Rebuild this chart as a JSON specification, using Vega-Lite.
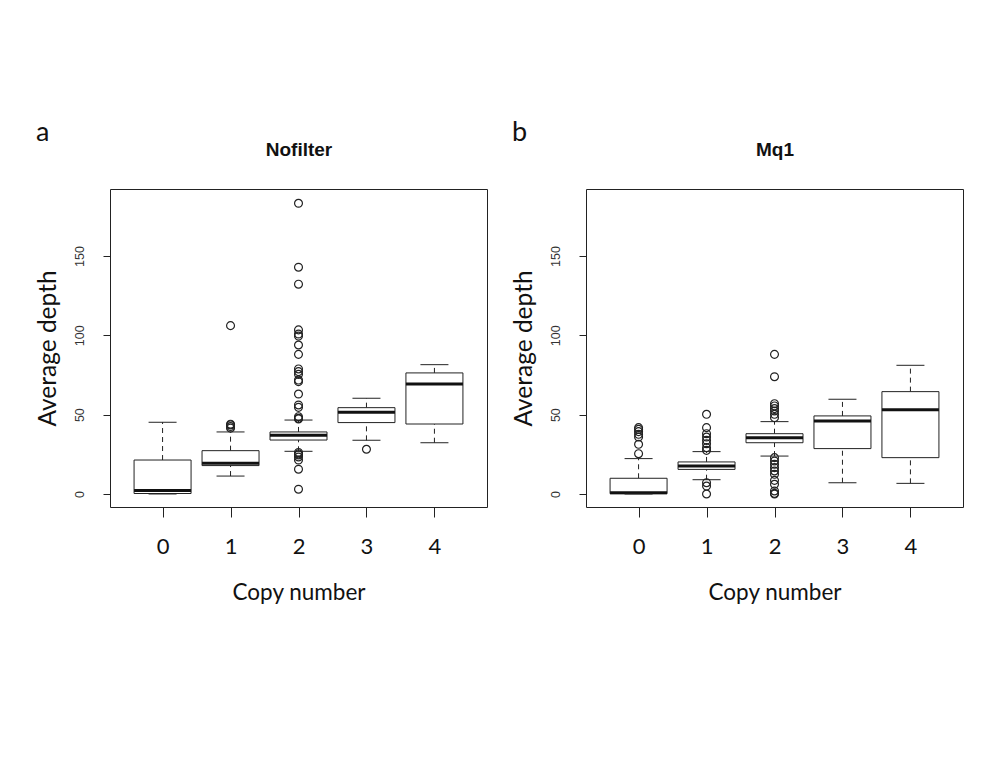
{
  "$schema": "https://vega.github.io/schema/vega-lite/v6.json",
  "background": "white",
  "padding": {"left": 34, "top": 118, "right": 5, "bottom": 5},
  "datasets": {
    "boxes": [
      {"panel": "a", "copy": 0, "lower": 0, "q1": 0.3, "median": 2.2, "q3": 21.4, "upper": 45.2},
      {"panel": "a", "copy": 1, "lower": 11.3, "q1": 17.9, "median": 19.3, "q3": 27.3, "upper": 39.1},
      {"panel": "a", "copy": 2, "lower": 26.9, "q1": 34.0, "median": 37.0, "q3": 39.1, "upper": 46.6},
      {"panel": "a", "copy": 3, "lower": 33.8, "q1": 45.0, "median": 51.5, "q3": 54.4, "upper": 60.3},
      {"panel": "a", "copy": 4, "lower": 32.3, "q1": 44.1, "median": 69.3, "q3": 76.3, "upper": 81.5},
      {"panel": "b", "copy": 0, "lower": 0, "q1": 0.2, "median": 0.8, "q3": 9.9, "upper": 22.3},
      {"panel": "b", "copy": 1, "lower": 9.0, "q1": 15.5, "median": 17.6, "q3": 20.2, "upper": 26.7},
      {"panel": "b", "copy": 2, "lower": 23.9, "q1": 32.3, "median": 35.5, "q3": 38.0, "upper": 45.6},
      {"panel": "b", "copy": 3, "lower": 7.1, "q1": 28.6, "median": 46.0, "q3": 49.2, "upper": 59.7},
      {"panel": "b", "copy": 4, "lower": 6.7, "q1": 22.9, "median": 53.1, "q3": 64.5, "upper": 81.1}
    ],
    "outliers": [
      {"panel": "a", "copy": 1, "value": 106.1},
      {"panel": "a", "copy": 1, "value": 41.5},
      {"panel": "a", "copy": 1, "value": 42.5},
      {"panel": "a", "copy": 1, "value": 43.5},
      {"panel": "a", "copy": 1, "value": 44.0},
      {"panel": "a", "copy": 2, "value": 183.2},
      {"panel": "a", "copy": 2, "value": 142.9},
      {"panel": "a", "copy": 2, "value": 132.2},
      {"panel": "a", "copy": 2, "value": 103.4},
      {"panel": "a", "copy": 2, "value": 100.8},
      {"panel": "a", "copy": 2, "value": 99.5},
      {"panel": "a", "copy": 2, "value": 93.9},
      {"panel": "a", "copy": 2, "value": 88.0},
      {"panel": "a", "copy": 2, "value": 78.8},
      {"panel": "a", "copy": 2, "value": 77.1},
      {"panel": "a", "copy": 2, "value": 75.4},
      {"panel": "a", "copy": 2, "value": 71.8},
      {"panel": "a", "copy": 2, "value": 70.8},
      {"panel": "a", "copy": 2, "value": 63.0},
      {"panel": "a", "copy": 2, "value": 56.1},
      {"panel": "a", "copy": 2, "value": 54.6},
      {"panel": "a", "copy": 2, "value": 48.7},
      {"panel": "a", "copy": 2, "value": 47.7},
      {"panel": "a", "copy": 2, "value": 47.3},
      {"panel": "a", "copy": 2, "value": 26.2},
      {"panel": "a", "copy": 2, "value": 25.3},
      {"panel": "a", "copy": 2, "value": 24.6},
      {"panel": "a", "copy": 2, "value": 23.3},
      {"panel": "a", "copy": 2, "value": 21.4},
      {"panel": "a", "copy": 2, "value": 15.6},
      {"panel": "a", "copy": 2, "value": 3.0},
      {"panel": "a", "copy": 3, "value": 28.2},
      {"panel": "b", "copy": 0, "value": 41.8},
      {"panel": "b", "copy": 0, "value": 40.7},
      {"panel": "b", "copy": 0, "value": 39.3},
      {"panel": "b", "copy": 0, "value": 37.6},
      {"panel": "b", "copy": 0, "value": 35.9},
      {"panel": "b", "copy": 0, "value": 31.3},
      {"panel": "b", "copy": 0, "value": 25.4},
      {"panel": "b", "copy": 1, "value": 50.2},
      {"panel": "b", "copy": 1, "value": 41.8},
      {"panel": "b", "copy": 1, "value": 38.0},
      {"panel": "b", "copy": 1, "value": 35.9},
      {"panel": "b", "copy": 1, "value": 33.8},
      {"panel": "b", "copy": 1, "value": 31.7},
      {"panel": "b", "copy": 1, "value": 29.2},
      {"panel": "b", "copy": 1, "value": 27.5},
      {"panel": "b", "copy": 1, "value": 7.1},
      {"panel": "b", "copy": 1, "value": 5.0},
      {"panel": "b", "copy": 1, "value": 0.0},
      {"panel": "b", "copy": 2, "value": 88.0},
      {"panel": "b", "copy": 2, "value": 73.9},
      {"panel": "b", "copy": 2, "value": 56.9},
      {"panel": "b", "copy": 2, "value": 55.5},
      {"panel": "b", "copy": 2, "value": 53.8},
      {"panel": "b", "copy": 2, "value": 52.3},
      {"panel": "b", "copy": 2, "value": 50.2},
      {"panel": "b", "copy": 2, "value": 48.1},
      {"panel": "b", "copy": 2, "value": 22.9},
      {"panel": "b", "copy": 2, "value": 20.8},
      {"panel": "b", "copy": 2, "value": 18.7},
      {"panel": "b", "copy": 2, "value": 16.6},
      {"panel": "b", "copy": 2, "value": 14.5},
      {"panel": "b", "copy": 2, "value": 12.4},
      {"panel": "b", "copy": 2, "value": 8.6},
      {"panel": "b", "copy": 2, "value": 6.1},
      {"panel": "b", "copy": 2, "value": 1.9},
      {"panel": "b", "copy": 2, "value": 0.4},
      {"panel": "b", "copy": 2, "value": 0.0}
    ]
  },
  "spacing": 22,
  "hconcat": [
    {
      "width": 377, "height": 318,
      "title": {"text": "a"},
      "resolve": {"axis": {"x": "independent"}},
      "layer": [
        {"data": {"name": "boxes"}, "transform": [{"filter": "datum.panel == 'a'"}],
         "mark": {"type": "rule", "strokeDash": [5, 4], "color": "#222", "strokeWidth": 1},
         "encoding": {
           "x": {"field": "copy", "type": "quantitative", "scale": {"domain": [-0.7, 4.7], "nice": false, "zero": false}, "axis": {"values": [0, 1, 2, 3, 4], "title": "Copy number"}},
           "y": {"field": "lower", "type": "quantitative", "scale": {"domain": [-8.2, 192.2], "nice": false, "zero": false}, "title": "Average depth"},
           "y2": {"field": "q1"}}},
        {"data": {"name": "boxes"}, "transform": [{"filter": "datum.panel == 'a'"}],
         "mark": {"type": "rule", "strokeDash": [5, 4], "color": "#222", "strokeWidth": 1},
         "encoding": {
           "x": {"field": "copy", "type": "quantitative", "scale": {"domain": [-0.7, 4.7], "nice": false, "zero": false}, "axis": {"orient": "top", "title": "Nofilter", "ticks": false, "labels": false, "domain": false, "titleX": 188.5, "titleY": -40}},
           "y": {"field": "q3", "type": "quantitative", "scale": {"domain": [-8.2, 192.2], "nice": false, "zero": false}, "title": "Average depth"},
           "y2": {"field": "upper"}}},
        {"data": {"name": "boxes"}, "transform": [{"filter": "datum.panel == 'a'"}],
         "mark": {"type": "bar", "orient": "vertical", "size": 57, "fill": "white", "stroke": "#222", "strokeWidth": 1},
         "encoding": {
           "x": {"field": "copy", "type": "quantitative", "scale": {"domain": [-0.7, 4.7], "nice": false, "zero": false}, "axis": null},
           "y": {"field": "q1", "type": "quantitative", "scale": {"domain": [-8.2, 192.2], "nice": false, "zero": false}, "title": "Average depth"},
           "y2": {"field": "q3"}}},
        {"data": {"name": "boxes"}, "transform": [{"filter": "datum.panel == 'a'"}],
         "mark": {"type": "tick", "orient": "horizontal", "size": 57, "thickness": 3, "color": "#111", "opacity": 1},
         "encoding": {
           "x": {"field": "copy", "type": "quantitative", "scale": {"domain": [-0.7, 4.7], "nice": false, "zero": false}, "axis": null},
           "y": {"field": "median", "type": "quantitative", "scale": {"domain": [-8.2, 192.2], "nice": false, "zero": false}, "title": "Average depth"}}},
        {"data": {"name": "boxes"}, "transform": [{"filter": "datum.panel == 'a'"}],
         "mark": {"type": "tick", "orient": "horizontal", "size": 28, "thickness": 1, "color": "#222", "opacity": 1},
         "encoding": {
           "x": {"field": "copy", "type": "quantitative", "scale": {"domain": [-0.7, 4.7], "nice": false, "zero": false}, "axis": null},
           "y": {"field": "lower", "type": "quantitative", "scale": {"domain": [-8.2, 192.2], "nice": false, "zero": false}, "title": "Average depth"}}},
        {"data": {"name": "boxes"}, "transform": [{"filter": "datum.panel == 'a'"}],
         "mark": {"type": "tick", "orient": "horizontal", "size": 28, "thickness": 1, "color": "#222", "opacity": 1},
         "encoding": {
           "x": {"field": "copy", "type": "quantitative", "scale": {"domain": [-0.7, 4.7], "nice": false, "zero": false}, "axis": null},
           "y": {"field": "upper", "type": "quantitative", "scale": {"domain": [-8.2, 192.2], "nice": false, "zero": false}, "title": "Average depth"}}},
        {"data": {"name": "outliers"}, "transform": [{"filter": "datum.panel == 'a'"}],
         "mark": {"type": "point", "shape": "circle", "filled": false, "size": 62, "color": "#222", "strokeWidth": 1.2, "opacity": 1},
         "encoding": {
           "x": {"field": "copy", "type": "quantitative", "scale": {"domain": [-0.7, 4.7], "nice": false, "zero": false}, "axis": null},
           "y": {"field": "value", "type": "quantitative", "scale": {"domain": [-8.2, 192.2], "nice": false, "zero": false}, "title": "Average depth"}}}
      ]
    },
    {
      "width": 377, "height": 318,
      "title": {"text": "b"},
      "resolve": {"axis": {"x": "independent"}},
      "layer": [
        {"data": {"name": "boxes"}, "transform": [{"filter": "datum.panel == 'b'"}],
         "mark": {"type": "rule", "strokeDash": [5, 4], "color": "#222", "strokeWidth": 1},
         "encoding": {
           "x": {"field": "copy", "type": "quantitative", "scale": {"domain": [-0.7, 4.7], "nice": false, "zero": false}, "axis": {"values": [0, 1, 2, 3, 4], "title": "Copy number"}},
           "y": {"field": "lower", "type": "quantitative", "scale": {"domain": [-8.2, 192.2], "nice": false, "zero": false}, "title": "Average depth"},
           "y2": {"field": "q1"}}},
        {"data": {"name": "boxes"}, "transform": [{"filter": "datum.panel == 'b'"}],
         "mark": {"type": "rule", "strokeDash": [5, 4], "color": "#222", "strokeWidth": 1},
         "encoding": {
           "x": {"field": "copy", "type": "quantitative", "scale": {"domain": [-0.7, 4.7], "nice": false, "zero": false}, "axis": {"orient": "top", "title": "Mq1", "ticks": false, "labels": false, "domain": false, "titleX": 188.5, "titleY": -40}},
           "y": {"field": "q3", "type": "quantitative", "scale": {"domain": [-8.2, 192.2], "nice": false, "zero": false}, "title": "Average depth"},
           "y2": {"field": "upper"}}},
        {"data": {"name": "boxes"}, "transform": [{"filter": "datum.panel == 'b'"}],
         "mark": {"type": "bar", "orient": "vertical", "size": 57, "fill": "white", "stroke": "#222", "strokeWidth": 1},
         "encoding": {
           "x": {"field": "copy", "type": "quantitative", "scale": {"domain": [-0.7, 4.7], "nice": false, "zero": false}, "axis": null},
           "y": {"field": "q1", "type": "quantitative", "scale": {"domain": [-8.2, 192.2], "nice": false, "zero": false}, "title": "Average depth"},
           "y2": {"field": "q3"}}},
        {"data": {"name": "boxes"}, "transform": [{"filter": "datum.panel == 'b'"}],
         "mark": {"type": "tick", "orient": "horizontal", "size": 57, "thickness": 3, "color": "#111", "opacity": 1},
         "encoding": {
           "x": {"field": "copy", "type": "quantitative", "scale": {"domain": [-0.7, 4.7], "nice": false, "zero": false}, "axis": null},
           "y": {"field": "median", "type": "quantitative", "scale": {"domain": [-8.2, 192.2], "nice": false, "zero": false}, "title": "Average depth"}}},
        {"data": {"name": "boxes"}, "transform": [{"filter": "datum.panel == 'b'"}],
         "mark": {"type": "tick", "orient": "horizontal", "size": 28, "thickness": 1, "color": "#222", "opacity": 1},
         "encoding": {
           "x": {"field": "copy", "type": "quantitative", "scale": {"domain": [-0.7, 4.7], "nice": false, "zero": false}, "axis": null},
           "y": {"field": "lower", "type": "quantitative", "scale": {"domain": [-8.2, 192.2], "nice": false, "zero": false}, "title": "Average depth"}}},
        {"data": {"name": "boxes"}, "transform": [{"filter": "datum.panel == 'b'"}],
         "mark": {"type": "tick", "orient": "horizontal", "size": 28, "thickness": 1, "color": "#222", "opacity": 1},
         "encoding": {
           "x": {"field": "copy", "type": "quantitative", "scale": {"domain": [-0.7, 4.7], "nice": false, "zero": false}, "axis": null},
           "y": {"field": "upper", "type": "quantitative", "scale": {"domain": [-8.2, 192.2], "nice": false, "zero": false}, "title": "Average depth"}}},
        {"data": {"name": "outliers"}, "transform": [{"filter": "datum.panel == 'b'"}],
         "mark": {"type": "point", "shape": "circle", "filled": false, "size": 62, "color": "#222", "strokeWidth": 1.2, "opacity": 1},
         "encoding": {
           "x": {"field": "copy", "type": "quantitative", "scale": {"domain": [-0.7, 4.7], "nice": false, "zero": false}, "axis": null},
           "y": {"field": "value", "type": "quantitative", "scale": {"domain": [-8.2, 192.2], "nice": false, "zero": false}, "title": "Average depth"}}}
      ]
    }
  ],
  "config": {
    "view": {"stroke": "#222", "strokeWidth": 1},
    "title": {"anchor": "start", "frame": "bounds", "font": "Lato", "fontSize": 27, "fontWeight": "normal", "color": "#111", "offset": -7, "dx": 1},
    "axis": {"grid": false, "domain": false, "tickColor": "#222", "tickWidth": 1, "labelColor": "#333", "titleColor": "#111", "titleFontWeight": "normal"},
    "axisTop": {"titleFont": "Liberation Sans", "titleFontSize": 19, "titleFontWeight": "bold", "titleBaseline": "middle", "titleAlign": "center", "titleAngle": 0},
    "axisBottom": {"tickSize": 10, "labelFont": "Lato", "labelFontSize": 22, "labelBaseline": "middle", "labelPadding": 29, "labelColor": "#111", "titleFont": "Lato", "titleFontSize": 22.5, "titleX": 188.5, "titleY": 85, "titleBaseline": "middle", "titleAlign": "center"},
    "axisLeft": {"tickSize": 7, "tickCount": 4, "labelFont": "Liberation Sans", "labelFontSize": 12.5, "labelAngle": -90, "labelPadding": 17, "labelAlign": "center", "labelBaseline": "bottom", "titleFont": "Lato", "titleFontSize": 24.5, "titleX": -62, "titleY": 159, "titleAngle": -90, "titleBaseline": "middle", "titleAlign": "center"}
  }
}
